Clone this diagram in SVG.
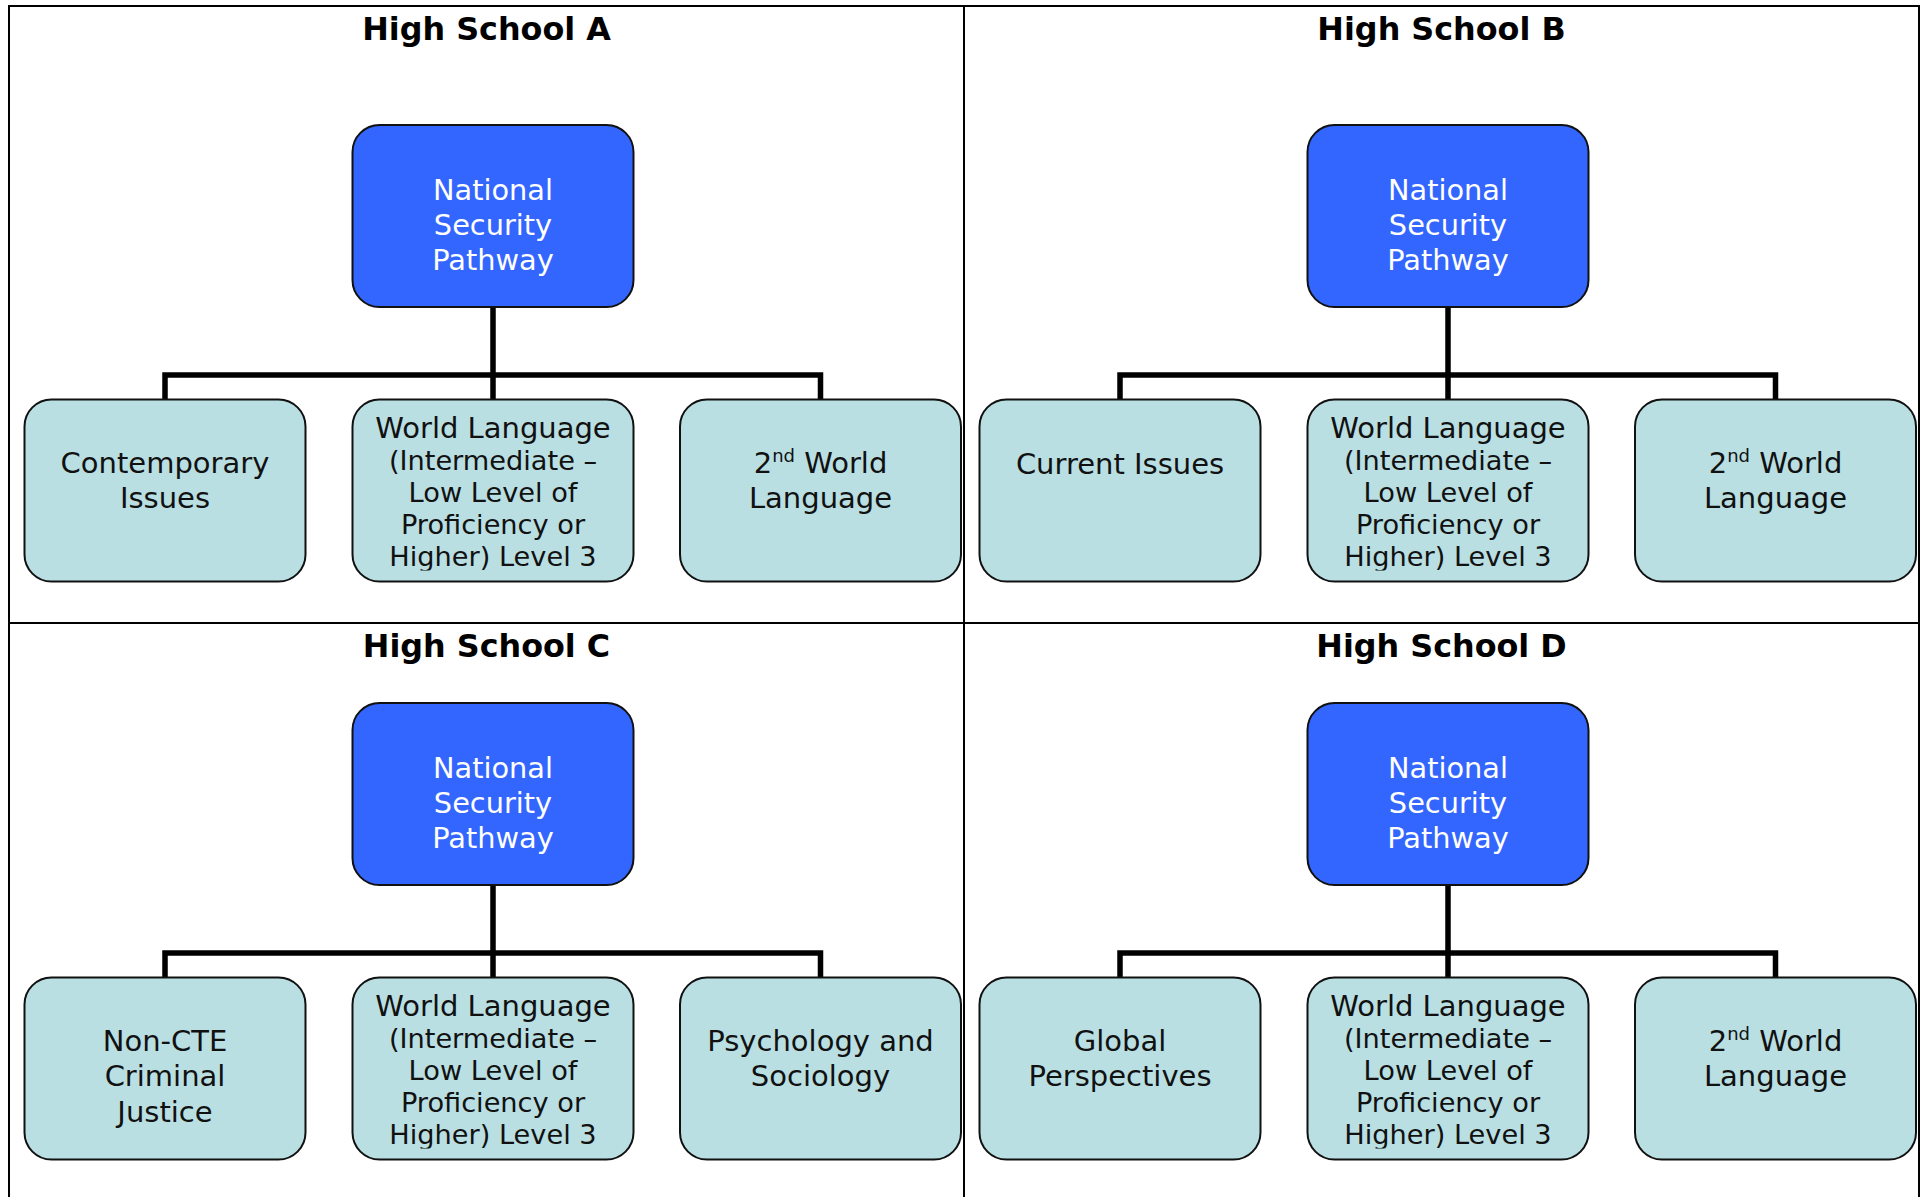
<svg xmlns="http://www.w3.org/2000/svg" width="1927" height="1197" viewBox="0 0 1927 1197">
<style>
.frame{fill:none;stroke:#000;stroke-width:2}
.title{font-family:"DejaVu Sans","Liberation Sans",sans-serif;font-weight:bold;font-size:31.8px;fill:#000;text-anchor:middle}
.top rect{fill:#3366FF;stroke:#111;stroke-width:2}
.top text{font-family:"DejaVu Sans","Liberation Sans",sans-serif;font-size:28.8px;fill:#fff;text-anchor:middle}
.child rect{fill:#B9DFE3;stroke:#111;stroke-width:2}
.child text{font-family:"DejaVu Sans","Liberation Sans",sans-serif;font-size:29px;fill:#111;text-anchor:middle}
.child text.sm{font-size:27.2px}
.conn{fill:none;stroke:#000;stroke-width:5.5;stroke-linejoin:miter;stroke-linecap:butt}
</style>
<defs>
<clipPath id="clipMid" clipPathUnits="userSpaceOnUse">
<rect x="0" y="395" width="1927" height="175.5"/>
<rect x="0" y="973" width="1927" height="175.5"/>
</clipPath>
</defs>
<rect width="1927" height="1197" fill="#fff"/>
<g id="frame">
<path class="frame" d="M9,1197 V6 H1919 V1197"/>
<path class="frame" d="M964,6 V1197"/>
<path class="frame" d="M9,623 H1919"/>
</g>
<g id="titles">
<text class="title" x="486.5" y="39.5">High School A</text>
<text class="title" x="1441.5" y="39.5">High School B</text>
<text class="title" x="486.5" y="657">High School C</text>
<text class="title" x="1441.5" y="657">High School D</text>
</g>
<g id="connectors">
<path class="conn" d="M493,307 V399.5 M165,399.5 V375 H820.5 V399.5"/>
<path class="conn" d="M1448,307 V399.5 M1120,399.5 V375 H1775.5 V399.5"/>
<path class="conn" d="M493,885 V977.5 M165,977.5 V953 H820.5 V977.5"/>
<path class="conn" d="M1448,885 V977.5 M1120,977.5 V953 H1775.5 V977.5"/>
</g>
<!-- Quadrant A -->
<g id="A-root" class="top">
<rect x="352.5" y="125" width="281" height="182" rx="27"/>
<text x="493" y="200">National</text><text x="493" y="235">Security</text><text x="493" y="269.5">Pathway</text>
</g>
<g id="A-c1" class="child">
<rect x="24.5" y="399.5" width="281" height="182" rx="27"/>
<text x="165" y="472.5">Contemporary</text><text x="165" y="507.5">Issues</text>
</g>
<g id="A-c2" class="child">
<rect x="352.5" y="399.5" width="281" height="182" rx="27"/>
<g clip-path="url(#clipMid)">
<text x="493" y="438.3">World Language</text>
<text class="sm" x="493" y="470.1">(Intermediate –</text>
<text class="sm" x="493" y="501.9">Low Level of</text>
<text class="sm" x="493" y="533.7">Proficiency or</text>
<text class="sm" x="493" y="565.5">Higher) Level 3</text>
</g>
</g>
<g id="A-c3" class="child">
<rect x="680" y="399.5" width="281" height="182" rx="27"/>
<text x="820.5" y="472.5">2<tspan font-size="18" dy="-11">nd</tspan><tspan dy="11"> World</tspan></text><text x="820.5" y="507.5">Language</text>
</g>
<!-- Quadrant B -->
<g id="B-root" class="top">
<rect x="1307.5" y="125" width="281" height="182" rx="27"/>
<text x="1448" y="200">National</text><text x="1448" y="235">Security</text><text x="1448" y="269.5">Pathway</text>
</g>
<g id="B-c1" class="child">
<rect x="979.5" y="399.5" width="281" height="182" rx="27"/>
<text x="1120" y="473.5">Current Issues</text>
</g>
<g id="B-c2" class="child">
<rect x="1307.5" y="399.5" width="281" height="182" rx="27"/>
<g clip-path="url(#clipMid)">
<text x="1448" y="438.3">World Language</text>
<text class="sm" x="1448" y="470.1">(Intermediate –</text>
<text class="sm" x="1448" y="501.9">Low Level of</text>
<text class="sm" x="1448" y="533.7">Proficiency or</text>
<text class="sm" x="1448" y="565.5">Higher) Level 3</text>
</g>
</g>
<g id="B-c3" class="child">
<rect x="1635" y="399.5" width="281" height="182" rx="27"/>
<text x="1775.5" y="472.5">2<tspan font-size="18" dy="-11">nd</tspan><tspan dy="11"> World</tspan></text><text x="1775.5" y="507.5">Language</text>
</g>
<!-- Quadrant C -->
<g id="C-root" class="top">
<rect x="352.5" y="703" width="281" height="182" rx="27"/>
<text x="493" y="778">National</text><text x="493" y="813">Security</text><text x="493" y="847.5">Pathway</text>
</g>
<g id="C-c1" class="child">
<rect x="24.5" y="977.5" width="281" height="182" rx="27"/>
<text x="165" y="1050.5">Non-CTE</text><text x="165" y="1086">Criminal</text><text x="165" y="1121.5">Justice</text>
</g>
<g id="C-c2" class="child">
<rect x="352.5" y="977.5" width="281" height="182" rx="27"/>
<g clip-path="url(#clipMid)">
<text x="493" y="1016.3">World Language</text>
<text class="sm" x="493" y="1048.1">(Intermediate –</text>
<text class="sm" x="493" y="1079.9">Low Level of</text>
<text class="sm" x="493" y="1111.7">Proficiency or</text>
<text class="sm" x="493" y="1143.5">Higher) Level 3</text>
</g>
</g>
<g id="C-c3" class="child">
<rect x="680" y="977.5" width="281" height="182" rx="27"/>
<text x="820.5" y="1050.5">Psychology and</text><text x="820.5" y="1086">Sociology</text>
</g>
<!-- Quadrant D -->
<g id="D-root" class="top">
<rect x="1307.5" y="703" width="281" height="182" rx="27"/>
<text x="1448" y="778">National</text><text x="1448" y="813">Security</text><text x="1448" y="847.5">Pathway</text>
</g>
<g id="D-c1" class="child">
<rect x="979.5" y="977.5" width="281" height="182" rx="27"/>
<text x="1120" y="1050.5">Global</text><text x="1120" y="1086">Perspectives</text>
</g>
<g id="D-c2" class="child">
<rect x="1307.5" y="977.5" width="281" height="182" rx="27"/>
<g clip-path="url(#clipMid)">
<text x="1448" y="1016.3">World Language</text>
<text class="sm" x="1448" y="1048.1">(Intermediate –</text>
<text class="sm" x="1448" y="1079.9">Low Level of</text>
<text class="sm" x="1448" y="1111.7">Proficiency or</text>
<text class="sm" x="1448" y="1143.5">Higher) Level 3</text>
</g>
</g>
<g id="D-c3" class="child">
<rect x="1635" y="977.5" width="281" height="182" rx="27"/>
<text x="1775.5" y="1050.5">2<tspan font-size="18" dy="-11">nd</tspan><tspan dy="11"> World</tspan></text><text x="1775.5" y="1086">Language</text>
</g>
</svg>
